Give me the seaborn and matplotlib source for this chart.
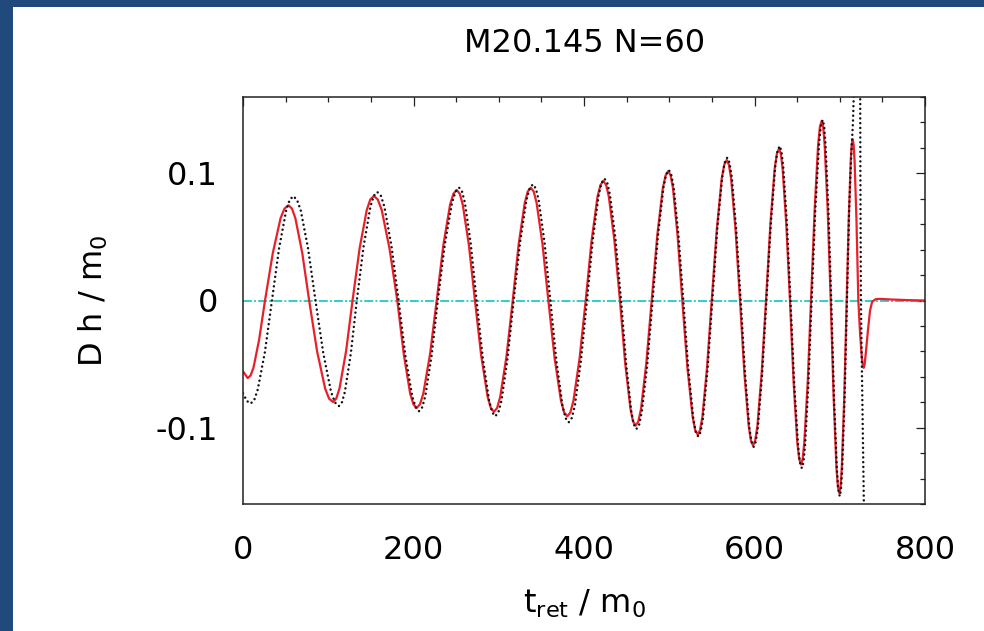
import matplotlib
matplotlib.use("Agg")
import numpy as np
import pandas as pd
import seaborn as sns
import matplotlib.pyplot as plt
from matplotlib.ticker import FixedLocator, FixedFormatter, MultipleLocator
from matplotlib.patches import Rectangle

# ---------------- data ----------------
title = "M20.145 N=60"
x_ticks = [0, 200, 400, 600, 800]
x_tick_labels = ["0", "200", "400", "600", "800"]
y_ticks = [-0.1, 0.0, 0.1]
y_tick_labels = ["-0.1", "0", "0.1"]

# red solid curve (t_ret / m0, D h / m0)
red_t = [0, 5.5, 8.9, 12.3, 19.0, 25.8,
         35.0, 44.1, 48.7, 53.3, 57.4, 61.4, 69.5, 77.6,
         86.9, 96.3, 100.9, 105.6, 109.4, 113.2, 120.9, 128.5,
         136.8, 145.2, 149.3, 153.5, 158.1, 162.7, 171.8, 181.0,
         188.6, 196.1, 199.9, 203.7, 207.6, 211.5, 219.4, 227.2,
         235.0, 242.9, 246.8, 250.7, 254.3, 257.8, 265.0, 272.1,
         279.5, 287.0, 290.7, 294.4, 298.1, 301.7, 309.1, 316.4,
         323.4, 330.5, 334.0, 337.5, 341.0, 344.4, 351.3, 358.2,
         365.6, 373.0, 376.7, 380.4, 384.0, 387.6, 394.8, 402.0,
         408.9, 415.8, 419.3, 422.7, 426.0, 429.2, 435.7, 442.2,
         448.3, 454.5, 457.5, 460.6, 463.7, 466.9, 473.1, 479.4,
         485.9, 492.4, 495.7, 498.9, 501.6, 504.4, 509.8, 515.3,
         521.3, 527.4, 530.4, 533.4, 536.1, 538.9, 544.3, 549.8,
         555.7, 561.5, 564.5, 567.4, 570.0, 572.6, 577.8, 583.0,
         588.1, 593.2, 595.8, 598.3, 600.8, 603.4, 608.4, 613.5,
         618.6, 623.6, 626.2, 628.7, 630.9, 633.0, 637.3, 641.6,
         645.9, 650.2, 652.4, 654.5, 656.5, 658.4, 662.4, 666.3,
         670.5, 674.6, 676.7, 678.8, 680.6, 682.3, 685.9, 689.4,
         692.8, 696.1, 697.8, 699.5, 701.0, 702.4, 705.3, 708.2,
         710.5, 712.9, 714.0, 715.2, 716.3, 717.4, 719.6, 721.8,
         723.9, 726.0, 727.1, 728.1, 729.1, 730.5, 733.0, 735.5, 738.0,
         742.0, 747.0, 760.0, 780.0, 800.0]
red_v = [-0.0557, -0.061, -0.0589, -0.0528, -0.0305, 0.0,
         0.0374, 0.0648, 0.0723, 0.0748, 0.0723, 0.0648, 0.0374, 0.0,
         -0.0399, -0.0691, -0.0771, -0.0798, -0.0771, -0.0691, -0.0399, 0.0,
         0.0411, 0.0712, 0.0794, 0.0822, 0.0794, 0.0712, 0.0411, 0.0,
         -0.0423, -0.0732, -0.0816, -0.0845, -0.0816, -0.0732, -0.0423, 0.0,
         0.0435, 0.0753, 0.0839, 0.0869, 0.0839, 0.0753, 0.0435, 0.0,
         -0.0438, -0.0758, -0.0845, -0.0875, -0.0845, -0.0758, -0.0438, 0.0,
         0.0444, 0.0768, 0.0857, 0.0887, 0.0857, 0.0768, 0.0444, 0.0,
         -0.0456, -0.0789, -0.088, -0.0911, -0.088, -0.0789, -0.0456, 0.0,
         0.047, 0.0814, 0.0908, 0.094, 0.0908, 0.0814, 0.047, 0.0,
         -0.0492, -0.0852, -0.0951, -0.0984, -0.0951, -0.0852, -0.0492, 0.0,
         0.0509, 0.0882, 0.0983, 0.1018, 0.0983, 0.0882, 0.0509, 0.0,
         -0.0528, -0.0914, -0.1019, -0.1055, -0.1019, -0.0914, -0.0528, 0.0,
         0.0553, 0.0957, 0.1067, 0.1105, 0.1067, 0.0957, 0.0553, 0.0,
         -0.057, -0.0987, -0.1101, -0.114, -0.1101, -0.0987, -0.057, 0.0,
         0.0597, 0.1034, 0.1153, 0.1194, 0.1153, 0.1034, 0.0597, 0.0,
         -0.0645, -0.1117, -0.1246, -0.129, -0.1246, -0.1117, -0.0645, 0.0,
         0.0706, 0.1223, 0.1364, 0.1412, 0.1364, 0.1223, 0.0706, 0.0,
         -0.0757, -0.1311, -0.1463, -0.1514, -0.1463, -0.1311, -0.0757, 0.0,
         0.0634, 0.1098, 0.1225, 0.1268, 0.1225, 0.1098, 0.0634, 0.0,
         -0.0265, -0.0459, -0.0512, -0.053, -0.0505, -0.042, -0.024, -0.008, -0.001,
         0.001, 0.0013, 0.0008, 0.0003, 0.0]

# black dotted curve
black_t = [0, 4.5, 9.0, 13.2, 17.3, 25.7, 34.0,
           42.3, 50.7, 54.8, 59.0, 63.3, 67.7, 76.3, 85.0,
           94.2, 103.3, 107.9, 112.5, 116.0, 119.5, 126.5, 133.5,
           141.5, 149.5, 153.5, 157.5, 161.7, 165.8, 174.2, 182.5,
           190.5, 198.5, 202.5, 206.5, 210.2, 213.8, 221.2, 228.5,
           236.8, 245.2, 249.3, 253.5, 256.9, 260.3, 267.2, 274.0,
           281.3, 288.7, 292.3, 296.0, 299.6, 303.2, 310.3, 317.5,
           325.0, 332.5, 336.3, 340.0, 343.4, 346.8, 353.7, 360.5,
           367.7, 374.8, 378.4, 382.0, 385.6, 389.2, 396.3, 403.5,
           410.3, 417.2, 420.6, 424.0, 427.3, 430.5, 437.0, 443.5,
           449.5, 455.5, 458.5, 461.5, 464.7, 467.8, 474.2, 480.5,
           486.8, 493.2, 496.3, 499.5, 502.3, 505.2, 510.8, 516.5,
           522.3, 528.2, 531.1, 534.0, 536.8, 539.5, 545.0, 550.5,
           556.3, 562.2, 565.1, 568.0, 570.6, 573.3, 578.5, 583.8,
           588.9, 593.9, 596.5, 599.0, 601.5, 604.0, 609.0, 614.0,
           619.2, 624.3, 626.9, 629.5, 631.6, 633.7, 638.0, 642.2,
           646.6, 651.1, 653.3, 655.5, 657.4, 659.3, 663.2, 667.0,
           671.3, 675.7, 677.8, 680.0, 681.7, 683.3, 686.7, 690.0,
           693.3, 696.7, 698.3, 700.0, 701.4, 702.8, 705.7, 708.5,
           711.0, 713.5, 715.5, 716.8, 719.0, 721.5, 723.5,
           724.2, 724.8, 726.5, 728.5, 730.0]
black_v = [-0.073, -0.079, -0.081, -0.0782, -0.070, -0.0405, 0.0,
           0.041, 0.071, 0.0792, 0.082, 0.0792, 0.071, 0.041, 0.0,
           -0.0415, -0.0719, -0.0802, -0.083, -0.0802, -0.0719, -0.0415, 0.0,
           0.0427, 0.0739, 0.0824, 0.0853, 0.0824, 0.0739, 0.0427, 0.0,
           -0.0435, -0.0753, -0.084, -0.087, -0.084, -0.0753, -0.0435, 0.0,
           0.0444, 0.0768, 0.0857, 0.0887, 0.0857, 0.0768, 0.0444, 0.0,
           -0.0455, -0.0788, -0.0879, -0.091, -0.0879, -0.0788, -0.0455, 0.0,
           0.0457, 0.0791, 0.0882, 0.0913, 0.0882, 0.0791, 0.0457, 0.0,
           -0.0479, -0.083, -0.0925, -0.0958, -0.0925, -0.083, -0.0479, 0.0,
           0.0479, 0.083, 0.0925, 0.0958, 0.0925, 0.083, 0.0479, 0.0,
           -0.0505, -0.0875, -0.0976, -0.101, -0.0976, -0.0875, -0.0505, 0.0,
           0.0513, 0.0889, 0.0991, 0.1026, 0.0991, 0.0889, 0.0513, 0.0,
           -0.0535, -0.0927, -0.1034, -0.107, -0.1034, -0.0927, -0.0535, 0.0,
           0.0562, 0.0973, 0.1085, 0.1123, 0.1085, 0.0973, 0.0562, 0.0,
           -0.0575, -0.0996, -0.1111, -0.115, -0.1111, -0.0996, -0.0575, 0.0,
           0.0608, 0.1052, 0.1174, 0.1215, 0.1174, 0.1052, 0.0608, 0.0,
           -0.0659, -0.1141, -0.1273, -0.1318, -0.1273, -0.1141, -0.0659, 0.0,
           0.071, 0.123, 0.1372, 0.142, 0.1372, 0.123, 0.071, 0.0,
           -0.077, -0.1334, -0.1488, -0.154, -0.1488, -0.1334, -0.077, 0.0,
           0.07, 0.115, 0.14, 0.17, 0.4, 0.5, 0.3,
           0.1, 0.0, -0.08, -0.17, -0.3]

# cyan zero reference line
zero_t = [0, 800]
zero_v = [0.0, 0.0]

# ---------------- styling ----------------
sns.set_style("white")
plt.rcParams["font.family"] = ["DejaVu Sans"]
plt.rcParams["mathtext.fontset"] = "dejavusans"
plt.rcParams["axes.unicode_minus"] = False
plt.rcParams["text.color"] = "black"
plt.rcParams["axes.labelcolor"] = "black"
plt.rcParams["xtick.color"] = "black"
plt.rcParams["ytick.color"] = "black"

FS = 23
fig = plt.figure(figsize=(9.84, 6.31), dpi=100)
fig.patch.set_facecolor("white")
ax = fig.add_axes([243 / 984, 1 - 504 / 631, 682 / 984, 407 / 631])

# blue slide border (left and top)
border = "#214a7c"
fig.patches.append(Rectangle((0, 0), 13 / 984, 1, transform=fig.transFigure,
                             facecolor=border, edgecolor="none", zorder=0))
fig.patches.append(Rectangle((0, 1 - 7 / 631), 1, 7 / 631, transform=fig.transFigure,
                             facecolor=border, edgecolor="none", zorder=0))

df_zero = pd.DataFrame({"t": zero_t, "v": zero_v})
df_red = pd.DataFrame({"t": red_t, "v": red_v})
df_black = pd.DataFrame({"t": black_t, "v": black_v})

sns.lineplot(data=df_zero, x="t", y="v", ax=ax, color="#33cccc", linewidth=1.4,
             estimator=None, sort=False)
ax.lines[-1].set_linestyle((0, (4.6, 1.1, 1.0, 1.1)))

sns.lineplot(data=df_red, x="t", y="v", ax=ax, color="#e8202a", linewidth=1.6,
             estimator=None, sort=False)
ax.lines[-1].set_solid_joinstyle("round")

sns.lineplot(data=df_black, x="t", y="v", ax=ax, color="#111111", linewidth=1.8,
             estimator=None, sort=False)
ln = ax.lines[-1]
ln.set_linestyle((0, (0.01, 1.9)))
ln.set_dash_capstyle("round")

ax.set_xlim(0, 800)
ax.set_ylim(-0.16, 0.16)
ax.xaxis.set_major_locator(FixedLocator(x_ticks))
ax.xaxis.set_major_formatter(FixedFormatter(x_tick_labels))
ax.yaxis.set_major_locator(FixedLocator(y_ticks))
ax.yaxis.set_major_formatter(FixedFormatter(y_tick_labels))
ax.xaxis.set_minor_locator(MultipleLocator(50))
ax.yaxis.set_minor_locator(MultipleLocator(0.02))
ax.tick_params(which="both", direction="in", top=True, right=True,
               color="#222222", width=0.9)
ax.tick_params(which="major", length=6.5, labelsize=FS)
ax.tick_params(axis="x", which="major", pad=22)
ax.tick_params(axis="y", which="major", pad=18)
ax.tick_params(which="minor", length=3.3)
for s in ax.spines.values():
    s.set_color("#222222")
    s.set_linewidth(1.1)
    s.set_visible(True)

ax.set_xlabel(r"t$_\mathregular{ret}$ / m$_\mathregular{0}$", fontsize=FS)
ax.set_ylabel(r"D h / m$_\mathregular{0}$", fontsize=FS)
ax.xaxis.set_label_coords(0.5, -0.205)
ax.yaxis.set_label_coords(-0.195, 0.5)

fig.text(585 / 984, 1 - 43 / 631, title, fontsize=FS, ha="center", va="center")

fig.savefig("out.png", dpi=100, facecolor="white")
